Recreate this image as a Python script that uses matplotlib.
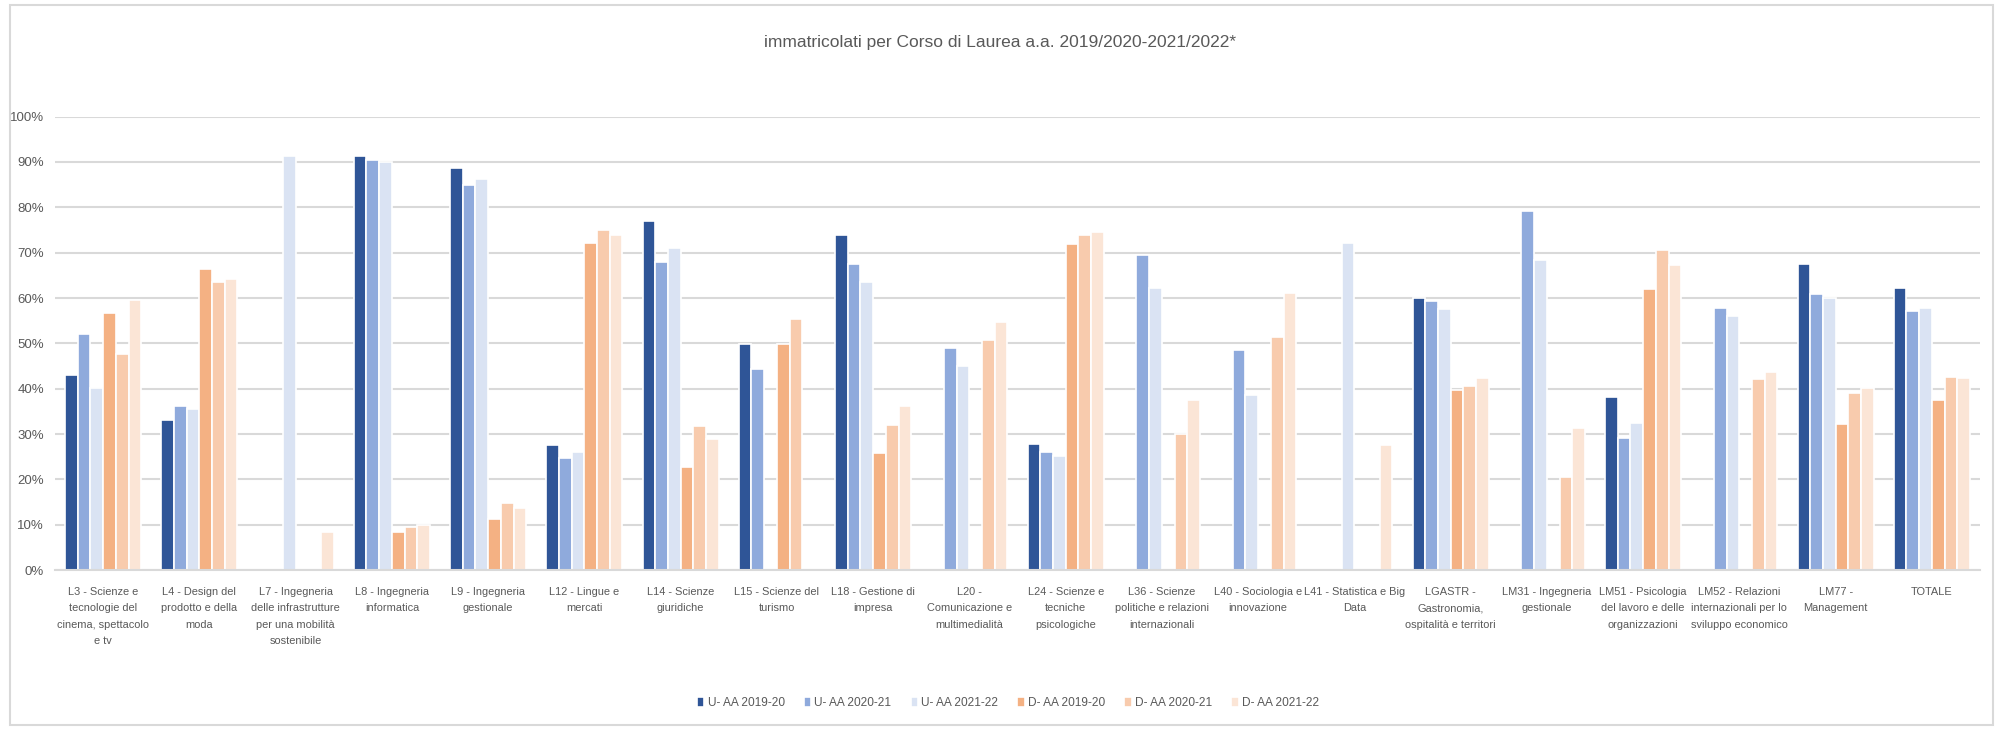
import numpy as np
import matplotlib
matplotlib.use("Agg")
import matplotlib.pyplot as plt
from matplotlib.patches import Rectangle
from matplotlib.ticker import PercentFormatter

nan = np.nan

categories = [
    "L3 - Scienze e\ntecnologie del\ncinema, spettacolo\ne tv",
    "L4 - Design del\nprodotto e della\nmoda",
    "L7 - Ingegneria\ndelle infrastrutture\nper una mobilità\nsostenibile",
    "L8 - Ingegneria\ninformatica",
    "L9 - Ingegneria\ngestionale",
    "L12 - Lingue e\nmercati",
    "L14 - Scienze\ngiuridiche",
    "L15 - Scienze del\nturismo",
    "L18 - Gestione di\nimpresa",
    "L20 -\nComunicazione e\nmultimedialità",
    "L24 - Scienze e\ntecniche\npsicologiche",
    "L36 - Scienze\npolitiche e relazioni\ninternazionali",
    "L40 - Sociologia e\ninnovazione",
    "L41 - Statistica e Big\nData",
    "LGASTR -\nGastronomia,\nospitalità e territori",
    "LM31 - Ingegneria\ngestionale",
    "LM51 - Psicologia\ndel lavoro e delle\norganizzazioni",
    "LM52 - Relazioni\ninternazionali per lo\nsviluppo economico",
    "LM77 -\nManagement",
    "TOTALE",
]

# percentuali (nan = barra assente)
u_1920 = [43.1, 33.2, nan, 91.4, 88.6, 27.6, 77.0, 49.9, 73.9, nan, 27.8, nan, nan, nan, 60.1, nan, 38.1, nan, 67.4, 62.3]
u_2021 = [52.0, 36.1, nan, 90.4, 85.0, 24.7, 68.0, 44.4, 67.6, 49.0, 26.0, 69.5, 48.6, nan, 59.3, 79.2, 29.1, 57.7, 60.8, 57.1]
u_2122 = [40.2, 35.6, 91.4, 89.9, 86.2, 26.0, 71.1, nan, 63.6, 45.1, 25.1, 62.1, 38.7, 72.2, 57.5, 68.3, 32.5, 56.0, 60.0, 57.7]
d_1920 = [56.7, 66.4, nan, 8.3, 11.2, 72.2, 22.7, 49.9, 25.8, nan, 71.9, nan, nan, nan, 39.8, nan, 61.9, nan, 32.3, 37.6]
d_2021 = [47.6, 63.6, nan, 9.4, 14.7, 75.0, 31.8, 55.3, 32.1, 50.7, 73.9, 30.1, 51.3, nan, 40.6, 20.5, 70.6, 42.2, 39.0, 42.6]
d_2122 = [59.5, 64.1, 8.3, 10.0, 13.6, 73.9, 28.8, nan, 36.1, 54.7, 74.5, 37.6, 61.0, 27.5, 42.3, 31.4, 67.2, 43.7, 40.1, 42.3]

series_labels = ["U- AA 2019-20", "U- AA 2020-21", "U- AA 2021-22",
                 "D- AA 2019-20", "D- AA 2020-21", "D- AA 2021-22"]
colors = ["#2F5597", "#8FAADC", "#DAE3F3", "#F4B183", "#F8CBAD", "#FBE5D6"]

plt.rcParams['font.family'] = ['Liberation Sans', 'DejaVu Sans']
text_col = "#595959"

fig = plt.figure(figsize=(20, 7.29), dpi=100)
ax = fig.add_axes([0.0275, 0.218, 0.9625, 0.622])

series = [u_1920, u_2021, u_2122, d_1920, d_2021, d_2122]
x = np.arange(len(categories))
step = 0.132
for i, (vals, lab, c) in enumerate(zip(series, series_labels, colors)):
    ax.bar(x + (i - 2.5) * step, vals, step, label=lab, color=c,
           edgecolor="white", linewidth=1.2)

ax.set_xlim(-0.5, len(categories) - 0.5)
ax.set_ylim(0, 100)
ax.set_yticks(np.arange(0, 101, 10))
ax.yaxis.set_major_formatter(PercentFormatter(decimals=0))
ax.set_xticks(x)
ax.set_xticklabels(categories, fontsize=7.9, color=text_col, linespacing=1.8, va="top")
ax.tick_params(axis="x", length=0, pad=12)
ax.tick_params(axis="y", length=0, pad=8, labelsize=9.5, labelcolor=text_col)

ax.grid(axis="y", color="#D9D9D9", linewidth=1.5)
ax.set_axisbelow(True)
for s in ["top", "right", "left"]:
    ax.spines[s].set_visible(False)
ax.spines["bottom"].set_color("#D9D9D9")
ax.spines["bottom"].set_linewidth(1.5)

fig.text(0.5, 1 - 42 / 729, "immatricolati per Corso di Laurea a.a. 2019/2020-2021/2022*",
         ha="center", va="center", fontsize=12.5, color=text_col)

leg = fig.legend(loc="center", bbox_to_anchor=(0.504, 1 - 703 / 729), ncol=6,
                 frameon=False, fontsize=8.6, handlelength=0.6, handleheight=0.9,
                 handletextpad=0.3, columnspacing=1.6)
for t in leg.get_texts():
    t.set_color(text_col)

# bordo esterno del grafico
fig.patches.append(Rectangle((10 / 2000, 4 / 729), 1983 / 2000, 720 / 729,
                             transform=fig.transFigure, fill=False,
                             edgecolor="#D9D9D9", linewidth=1.5))

plt.savefig("out.png", dpi=100)
